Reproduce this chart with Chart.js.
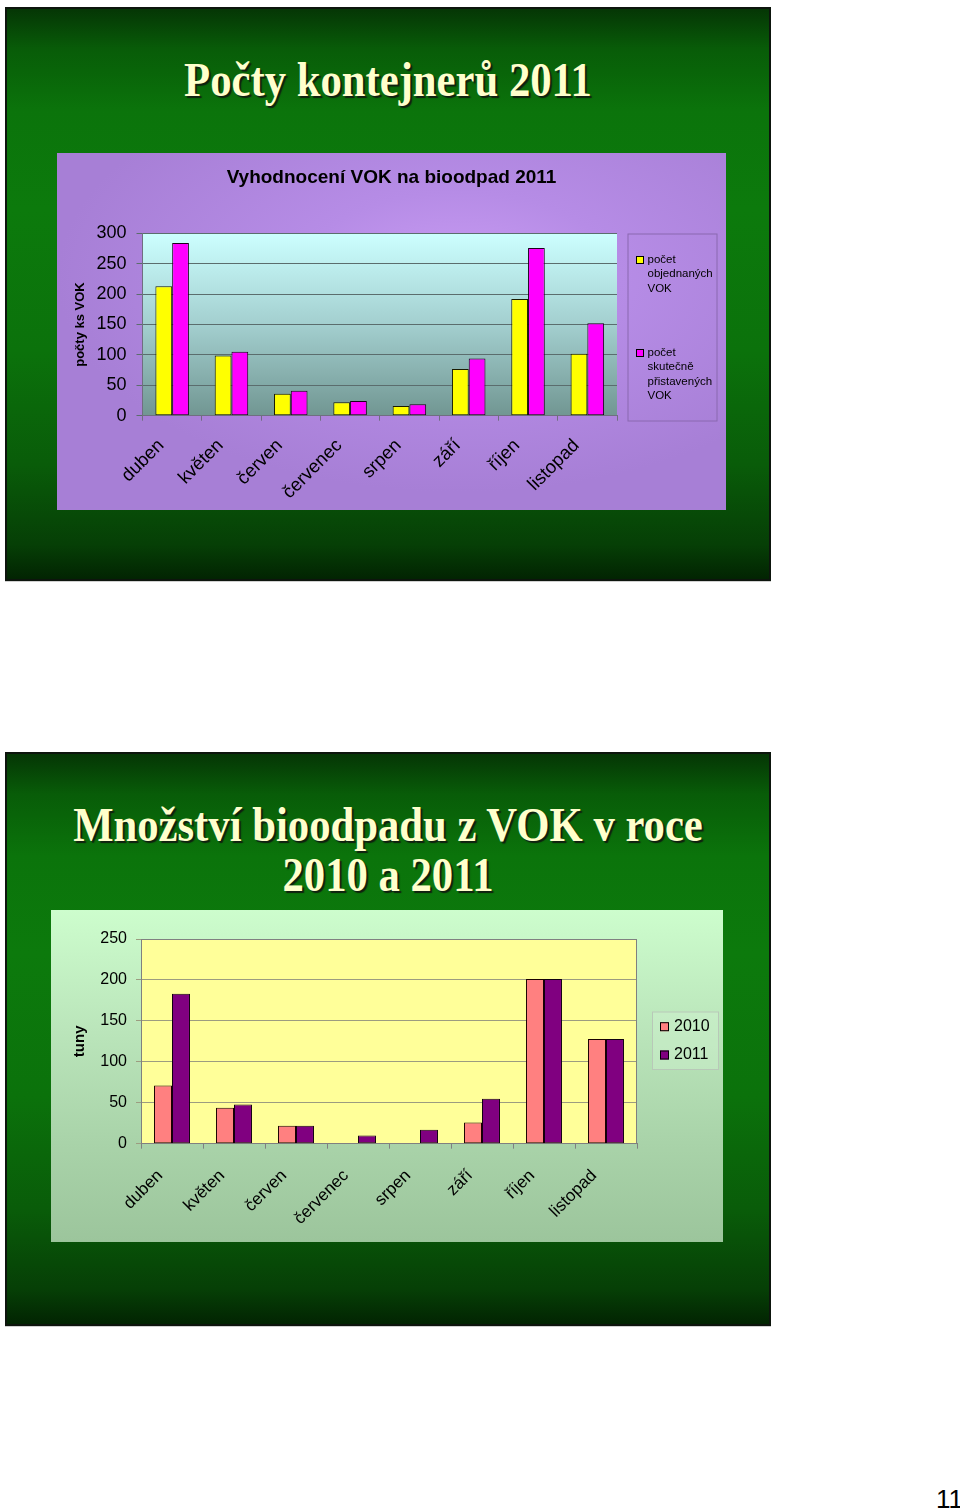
<!DOCTYPE html>
<html><head><meta charset="utf-8">
<script src="https://cdn.jsdelivr.net/npm/chart.js@4.4.1/dist/chart.umd.min.js"></script>
<style>
html,body{margin:0;padding:0;background:#fff;width:960px;height:1511px;overflow:hidden;position:relative;font-family:'Liberation Sans',Arial,sans-serif;}
.slide{position:absolute;left:5px;width:762px;height:570px;border:2px solid #0d150d;
 background:linear-gradient(180deg,#053605 0%,#085c08 7%,#0b740b 18%,#0c7a0c 35%,#0b720b 60%,#095c09 80%,#063f06 94%,#022402 100%);
 box-shadow:0 1px 0 #d0d0d0;}
.stitle{position:absolute;left:5px;width:766px;text-align:center;font-family:'Liberation Serif','Times New Roman',serif;font-weight:bold;color:#ffffcc;font-size:42.7px;line-height:50px;height:50px;text-shadow:2px 2px 1px #102010;transform:scaleY(1.15);transform-origin:50% 39px;white-space:nowrap;}
.box{position:absolute;}
#box1{left:57px;top:153px;width:669px;height:357px;background:radial-gradient(ellipse 60% 60% at 60% 35%,#c99cf3 0%,#b68ce6 40%,#a77fd6 100%);}
#box2{left:51px;top:910px;width:672px;height:332px;background:linear-gradient(180deg,#cdfdcd 0%,#bbe6bb 35%,#a9d3a9 70%,#9cc59c 100%);}
canvas{display:block;}
#pg{position:absolute;left:936px;top:1486px;font-size:26px;line-height:26px;color:#000;}
</style></head><body>
<div class="slide" style="top:7px"></div>
<div class="slide" style="top:752px"></div>
<div class="stitle" style="top:57px">Počty kontejnerů 2011</div>
<div class="stitle" style="top:802px">Množství bioodpadu z VOK v roce</div>
<div class="stitle" style="top:852px">2010 a 2011</div>
<div class="box" id="box1"><canvas id="c1" width="669" height="357"></canvas></div>
<div class="box" id="box2"><canvas id="c2" width="672" height="332"></canvas></div>
<div id="pg">11</div>
<script>
// ---- data ----
const months = ['duben','květen','červen','červenec','srpen','září','říjen','listopad'];
const ordered2011 = [213, 99, 36, 22, 16, 77, 192, 102];
const delivered2011 = [284, 105, 41, 24, 19, 94, 276, 152];
const legendLines1 = [['počet','objednaných','VOK'], ['počet','skutečně','přistavených','VOK']];
const chart1Title = 'Vyhodnocení VOK na bioodpad 2011';
const chart1AxisTitle = 'počty ks VOK';
const chart1Max = 300, chart1Step = 50;

const tons2010 = [71, 44, 22, null, null, 26, 201, 128];
const tons2011 = [183, 48, 22, 10, 17, 55, 201, 128];
const legendLines2 = [['2010'], ['2011']];
const chart2AxisTitle = 'tuny';
const chart2Max = 250, chart2Step = 50;

Chart.defaults.font.family = "'Liberation Sans', Arial, sans-serif";
Chart.defaults.color = '#000';

const plotBg = {
  id: 'plotBg',
  beforeDraw(chart, args, o) {
    const {ctx, chartArea: a} = chart;
    ctx.save();
    if (o.stops) {
      const g = ctx.createLinearGradient(0, a.top, 0, a.bottom);
      o.stops.forEach(s => g.addColorStop(s[0], s[1]));
      ctx.fillStyle = g;
    } else ctx.fillStyle = o.color;
    ctx.fillRect(a.left, a.top, a.width, a.height);
    ctx.restore();
  },
  beforeDatasetsDraw(chart, args, o) {
    if (!o.border) return;
    const {ctx, chartArea: a} = chart;
    ctx.save();
    ctx.strokeStyle = o.border; ctx.lineWidth = 1;
    ctx.strokeRect(Math.round(a.left) + 0.5, Math.round(a.top) + 0.5, Math.round(a.width) - 1, Math.round(a.height) - 1);
    ctx.restore();
  }
};

const boxLegend = {
  id: 'boxLegend',
  afterDraw(chart, args, o) {
    const ctx = chart.ctx;
    ctx.save();
    if (o.fill) { ctx.fillStyle = o.fill; ctx.fillRect(o.x, o.y, o.w, o.h); }
    ctx.strokeStyle = o.border; ctx.lineWidth = 1;
    ctx.strokeRect(o.x + 0.5, o.y + 0.5, o.w, o.h);
    ctx.font = o.font; ctx.textBaseline = 'middle'; ctx.textAlign = 'left';
    chart.data.datasets.forEach((ds, i) => {
      const lines = o.lines[i];
      const y0 = o.itemY[i];
      ctx.fillStyle = ds.backgroundColor;
      ctx.fillRect(o.sqX, y0 - o.sq / 2, o.sq, o.sq);
      ctx.strokeStyle = '#000';
      ctx.strokeRect(o.sqX + 0.5, y0 - o.sq / 2 + 0.5, o.sq - 1, o.sq - 1);
      ctx.fillStyle = '#000';
      lines.forEach((t, j) => ctx.fillText(t, o.textX, y0 + j * o.lineH));
    });
    ctx.restore();
  }
};

function fixW(w) { return s => { s.width = w; }; }
function fixH(h) { return s => { s.height = h; }; }

new Chart(document.getElementById('c1'), {
  type: 'bar',
  data: {
    labels: months,
    datasets: [
      { label: legendLines1[0].join(' '), data: ordered2011, backgroundColor: '#ffff00', borderColor: '#1a1a00', borderWidth: 1, borderSkipped: false, barPercentage: 1, categoryPercentage: 0.565 },
      { label: legendLines1[1].join(' '), data: delivered2011, backgroundColor: '#ff00ff', borderColor: '#1a001a', borderWidth: 1, borderSkipped: false, barPercentage: 1, categoryPercentage: 0.565 }
    ]
  },
  options: {
    responsive: false, animation: false, devicePixelRatio: 1,
    layout: { padding: 0 },
    plugins: {
      legend: { display: false }, tooltip: { enabled: false },
      title: { display: true, text: chart1Title, font: { size: 19, weight: 'bold' }, color: '#000', padding: { top: 13, bottom: 44.5 } },
      plotBg: { stops: [[0, '#ccffff'], [0.5, '#a3cfcf'], [1, '#719692']] },
      boxLegend: { x: 570.5, y: 80.5, w: 89, h: 187, fill: null, border: '#8a68b0', font: '11.5px "Liberation Sans", Arial, sans-serif',
        sq: 8, sqX: 579, textX: 590.5, itemY: [107, 200], lineH: 14.3, lines: legendLines1 }
    },
    scales: {
      x: {
        grid: { display: true, drawOnChartArea: false, offset: true, tickLength: 5, color: '#6f6f80' },
        border: { display: true, color: '#6f6f80' },
        ticks: { minRotation: 45, maxRotation: 45, autoSkip: false, font: { size: 18.5 }, color: '#000', padding: 14, labelOffset: -11 },
        afterFit: fixH(94.3)
      },
      y: {
        min: 0, max: chart1Max,
        ticks: { stepSize: chart1Step, font: { size: 18 }, color: '#000', padding: 10 },
        grid: { color: '#5b6d6d', tickLength: 6, lineWidth: 1 },
        border: { display: true, color: '#6f6f80' },
        title: { display: true, text: chart1AxisTitle, font: { size: 13, weight: 'bold' }, color: '#000', padding: { top: 16, bottom: 0 } },
        afterFit: fixW(85.5)
      },
      y2: {
        position: 'right', display: true,
        grid: { display: false, drawTicks: false }, border: { display: false }, ticks: { display: false },
        afterFit: fixW(109)
      }
    }
  },
  plugins: [plotBg, boxLegend]
});

new Chart(document.getElementById('c2'), {
  type: 'bar',
  data: {
    labels: months,
    datasets: [
      { label: legendLines2[0].join(' '), data: tons2010, backgroundColor: '#ff8080', borderColor: '#1a0000', borderWidth: 1, borderSkipped: false, barPercentage: 1, categoryPercentage: 0.58 },
      { label: legendLines2[1].join(' '), data: tons2011, backgroundColor: '#800080', borderColor: '#100010', borderWidth: 1, borderSkipped: false, barPercentage: 1, categoryPercentage: 0.58 }
    ]
  },
  options: {
    responsive: false, animation: false, devicePixelRatio: 1,
    layout: { padding: { top: 29 } },
    plugins: {
      legend: { display: false }, tooltip: { enabled: false },
      plotBg: { color: '#ffff99', border: '#808080' },
      boxLegend: { x: 601, y: 101.5, w: 66, h: 57.5, fill: 'rgba(215,245,215,0.35)', border: '#b8c8b8', font: '16px "Liberation Sans", Arial, sans-serif',
        sq: 9, sqX: 609, textX: 623, itemY: [116.7, 145], lineH: 18, lines: legendLines2 }
    },
    scales: {
      x: {
        grid: { display: true, drawOnChartArea: false, offset: true, tickLength: 5, color: '#808080' },
        border: { display: true, color: '#808080' },
        ticks: { minRotation: 45, maxRotation: 45, autoSkip: false, font: { size: 17 }, color: '#000', padding: 17, labelOffset: -12 },
        afterFit: fixH(98.3)
      },
      y: {
        min: 0, max: chart2Max,
        ticks: { stepSize: chart2Step, font: { size: 16 }, color: '#000', padding: 9 },
        grid: { color: '#9c9c80', tickLength: 5, lineWidth: 1 },
        border: { display: true, color: '#808080' },
        title: { display: true, text: chart2AxisTitle, font: { size: 15, weight: 'bold' }, color: '#000', padding: { top: 20, bottom: 0 } },
        afterFit: fixW(90)
      },
      y2: {
        position: 'right', display: true,
        grid: { display: false, drawTicks: false }, border: { display: false }, ticks: { display: false },
        afterFit: fixW(86)
      }
    }
  },
  plugins: [plotBg, boxLegend]
});
</script>
</body></html>
